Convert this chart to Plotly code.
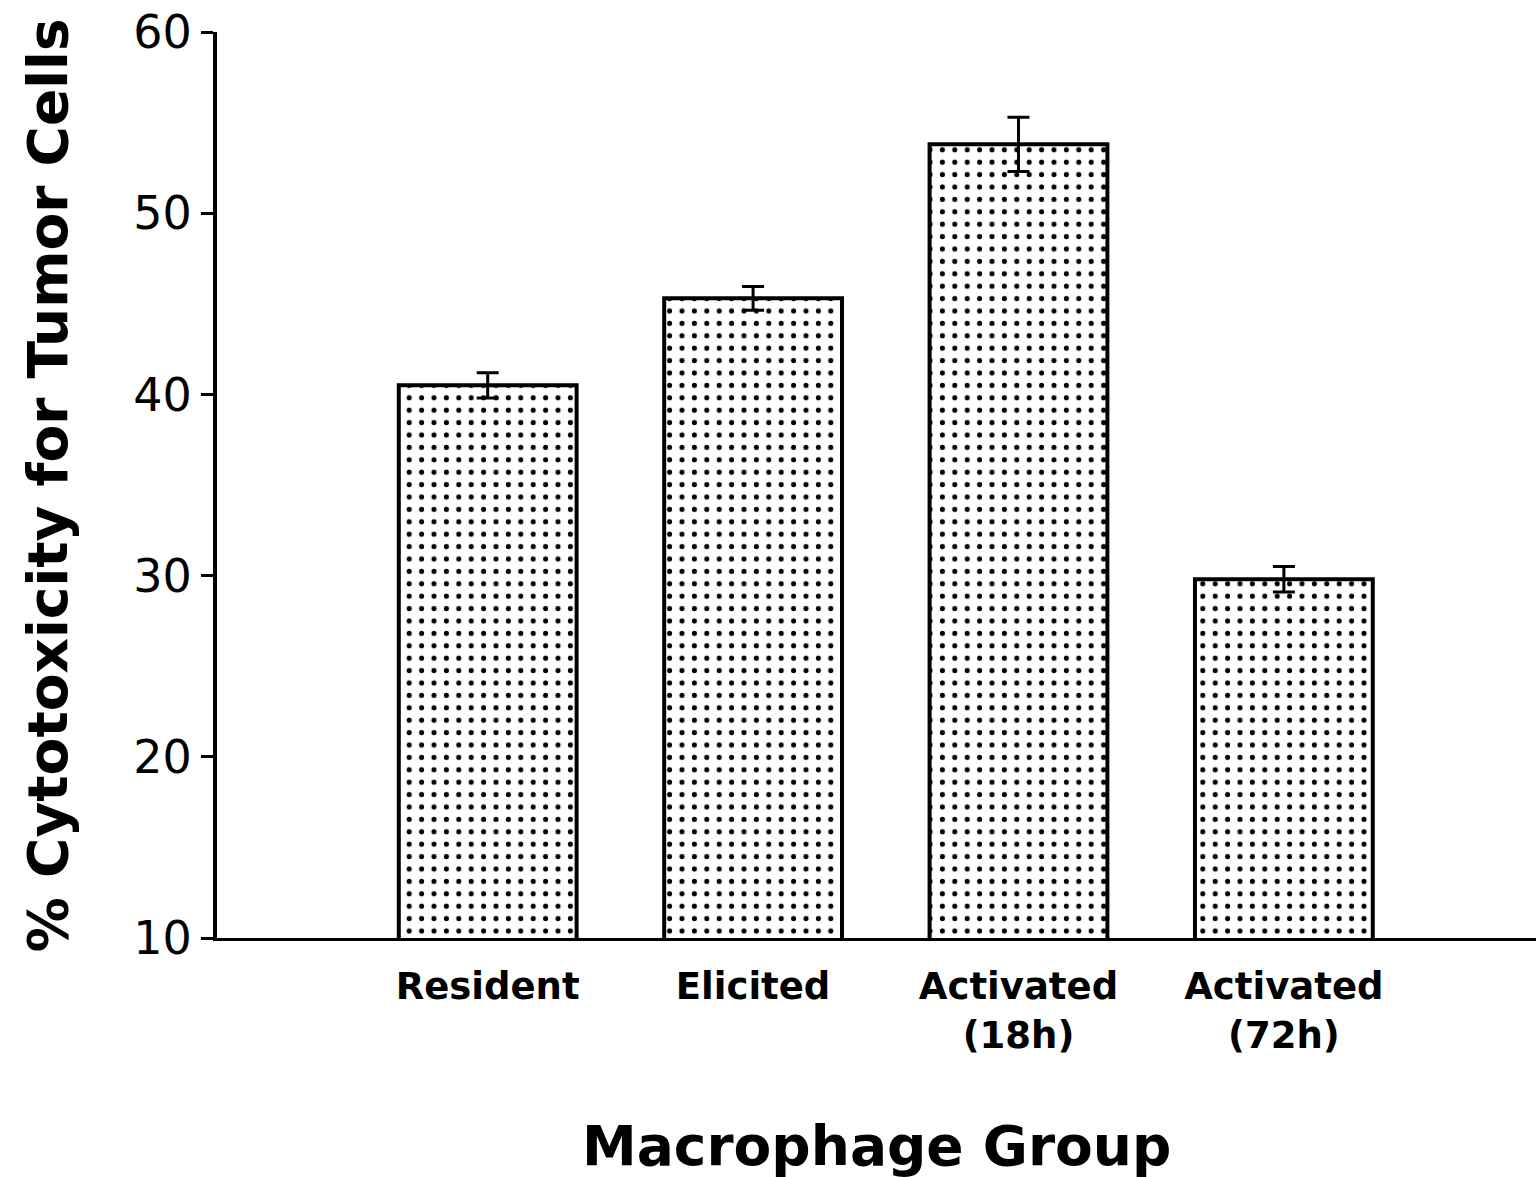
import plotly.graph_objects as go

categories = ["Resident", "Elicited", "Activated<br>(18h)", "Activated<br>(72h)"]
values = [40.5, 45.3, 53.8, 29.8]
errors = [0.7, 0.65, 1.5, 0.7]
y_ticks = [10, 20, 30, 40, 50, 60]

xpos = list(range(len(categories)))

fig = go.Figure()
fig.add_trace(go.Bar(
    x=xpos, y=values, width=0.67,
    marker=dict(color="white", line=dict(color="black", width=4),
                pattern=dict(shape=".", size=12.4, solidity=0.13, fgopacity=1,
                             fgcolor="black", bgcolor="white", fillmode="overlay")),
    error_y=dict(type="data", array=errors, visible=True, color="black",
                 thickness=3, width=11),
    showlegend=False,
))

font = "DejaVu Sans"
fig.update_layout(
    width=1536, height=1177,
    margin=dict(l=217, r=0, t=32, b=239),
    paper_bgcolor="white", plot_bgcolor="white",
    xaxis=dict(range=[-1.02, 3.95], tickvals=xpos, ticktext=categories,
               showline=True, linecolor="black", linewidth=3, ticks="",
               showgrid=False, zeroline=False, ticklabelstandoff=14,
               tickfont=dict(family=font, size=37, color="black", weight="bold")),
    yaxis=dict(range=[10, 60], tickvals=y_ticks, showline=True, linecolor="black",
               linewidth=4, ticks="outside", ticklen=12, tickwidth=3, tickcolor="black",
               showgrid=False, zeroline=False,
               tickfont=dict(family=font, size=46, color="black")),
    font=dict(family=font, color="black"),
)
fig.add_annotation(text="% Cytotoxicity for Tumor Cells", xref="paper", yref="paper",
                   x=-0.128, y=0.5, xanchor="center", yanchor="middle", textangle=-90,
                   showarrow=False, font=dict(family=font, size=55, color="black", weight="bold"))
fig.add_annotation(text="Macrophage Group", xref="paper", yref="paper",
                   x=0.5, y=-0.2296, xanchor="center", yanchor="middle",
                   showarrow=False, font=dict(family=font, size=55, color="black", weight="bold"))

fig.write_html("out.html", config={"displayModeBar": False},
               post_script="document.body.style.margin='0';")
